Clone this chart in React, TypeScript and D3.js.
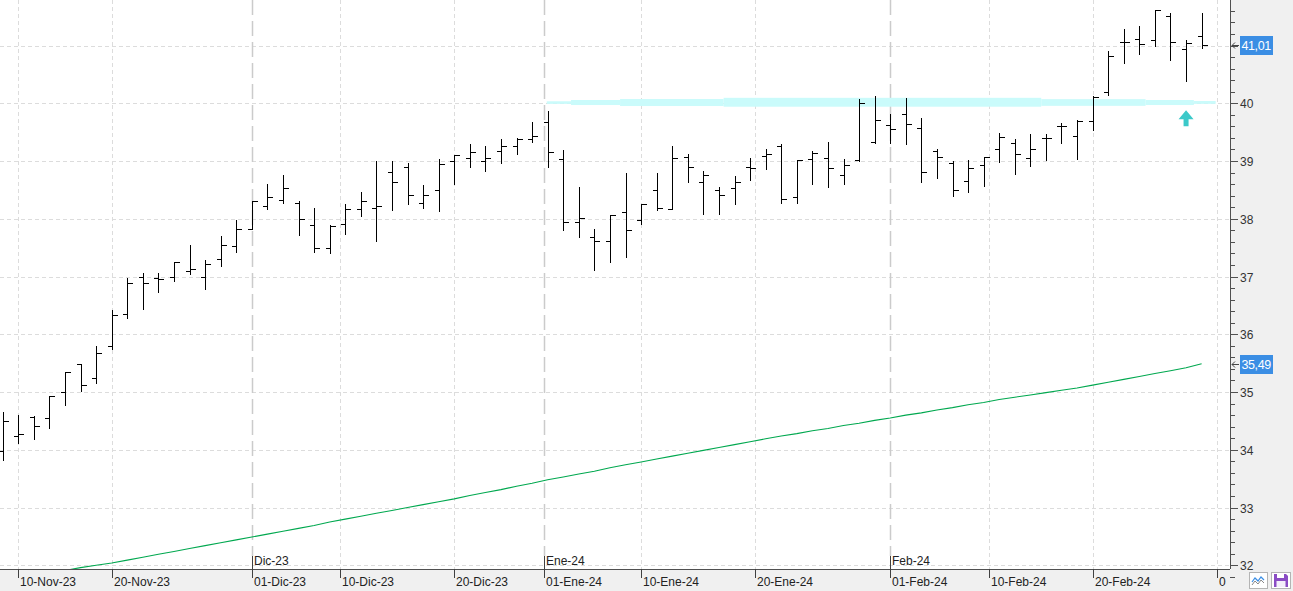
import { useEffect, useRef } from "react";
import * as d3 from "d3";

// trading sessions shown on the chart (BME calendar)
const tradingDays = [
  "2023-11-09", "2023-11-10", "2023-11-13", "2023-11-14", "2023-11-15", "2023-11-16", "2023-11-17",
  "2023-11-20", "2023-11-21", "2023-11-22", "2023-11-23", "2023-11-24", "2023-11-27", "2023-11-28",
  "2023-11-29", "2023-11-30",
  "2023-12-01", "2023-12-04", "2023-12-05", "2023-12-06", "2023-12-07", "2023-12-08", "2023-12-11",
  "2023-12-12", "2023-12-13", "2023-12-14", "2023-12-15", "2023-12-18", "2023-12-19", "2023-12-20",
  "2023-12-21", "2023-12-22", "2023-12-27", "2023-12-28", "2023-12-29",
  "2024-01-02", "2024-01-03", "2024-01-04", "2024-01-05", "2024-01-08", "2024-01-09", "2024-01-10",
  "2024-01-11", "2024-01-12", "2024-01-15", "2024-01-16", "2024-01-17", "2024-01-18", "2024-01-19",
  "2024-01-22", "2024-01-23", "2024-01-24", "2024-01-25", "2024-01-26", "2024-01-29", "2024-01-30",
  "2024-01-31",
  "2024-02-01", "2024-02-02", "2024-02-05", "2024-02-06", "2024-02-07", "2024-02-08", "2024-02-09",
  "2024-02-12", "2024-02-13", "2024-02-14", "2024-02-15", "2024-02-16", "2024-02-19", "2024-02-20",
  "2024-02-21", "2024-02-22", "2024-02-23", "2024-02-26", "2024-02-27", "2024-02-28", "2024-02-29",
];
const nextSession = "2024-03-01";

const opens = [
  33.98, 34.24, 34.56, 34.55, 35.0, 35.49, 35.24, 35.79, 36.36, 37.0, 36.98, 37.0, 37.1, 37.0, 37.31, 37.53,
  37.83, 38.22, 38.33, 38.28, 37.9, 37.5, 37.91, 38.17, 38.19, 38.81, 38.9, 38.28, 38.5, 39.0, 39.05, 39.0,
  39.17, 39.26, 39.38, 39.68, 39.03, 37.94, 37.69, 37.61, 38.12, 37.98, 38.5, 38.17, 39.07, 38.64, 38.5,
  38.53, 38.89, 39.08, 39.26, 38.38, 39.03, 39.06, 38.76, 39.02, 39.33, 39.62, 39.81, 39.58, 39.18, 38.96,
  38.66, 38.93, 39.21, 39.32, 39.05, 39.4, 39.6, 39.43, 39.69, 40.2, 41.07, 41.11, 41.1, 41.52, 40.94, 41.17,
];
const highs = [
  34.65, 34.6, 34.59, 34.93, 35.35, 35.49, 35.8, 36.42, 36.98, 37.07, 37.06, 37.26, 37.54, 37.29, 37.7, 37.98,
  38.31, 38.61, 38.75, 38.3, 38.18, 37.9, 38.25, 38.47, 39.0, 39.0, 38.97, 38.59, 39.04, 39.1, 39.29, 39.26,
  39.38, 39.4, 39.68, 39.87, 39.19, 38.55, 37.82, 38.07, 38.8, 38.26, 38.8, 39.26, 39.12, 38.83, 38.55,
  38.74, 39.06, 39.21, 39.3, 39.02, 39.17, 39.33, 39.03, 40.07, 40.13, 39.81, 40.09, 39.74, 39.2, 39.0,
  39.02, 39.07, 39.48, 39.38, 39.47, 39.47, 39.66, 39.71, 40.13, 40.9, 41.29, 41.34, 41.61, 41.56, 41.1, 41.56,
];
const lows = [
  33.83, 34.11, 34.18, 34.37, 34.77, 35.02, 35.15, 35.74, 36.29, 36.44, 36.73, 36.93, 37.05, 36.79, 37.18, 37.42,
  37.83, 38.17, 38.28, 37.72, 37.43, 37.41, 37.73, 38.04, 37.61, 38.15, 38.25, 38.19, 38.14, 38.6, 38.9, 38.82,
  38.97, 39.13, 39.33, 38.9, 37.8, 37.68, 37.12, 37.25, 37.33, 37.91, 38.16, 38.17, 38.63, 38.09, 38.09,
  38.25, 38.68, 38.87, 38.28, 38.28, 38.61, 38.55, 38.61, 39.0, 39.31, 39.31, 39.29, 38.63, 38.71, 38.4,
  38.47, 38.56, 38.99, 38.78, 38.92, 39.01, 39.32, 39.04, 39.53, 40.15, 40.69, 40.86, 41.0, 40.75, 40.39, 40.95,
];
const closes = [
  34.5, 34.27, 34.41, 34.93, 35.35, 35.12, 35.67, 36.34, 36.88, 36.88, 36.95, 37.26, 37.13, 37.22, 37.55, 37.83,
  38.31, 38.38, 38.53, 38.0, 37.5, 37.88, 38.17, 38.31, 38.22, 38.63, 38.42, 38.41, 38.95, 39.1, 39.16, 39.05,
  39.26, 39.39, 39.44, 39.15, 37.94, 38.01, 37.61, 38.07, 37.81, 38.26, 38.19, 39.05, 38.89, 38.75, 38.42,
  38.64, 38.88, 39.12, 38.35, 39.02, 39.14, 38.88, 38.93, 40.0, 39.71, 39.55, 39.64, 38.81, 39.07, 38.5,
  38.88, 39.07, 39.42, 39.12, 39.21, 39.4, 39.6, 39.69, 40.11, 40.82, 41.06, 41.03, 41.61, 41.06, 41.04, 41.01,
];
// long moving average (green)
const average = [
  31.73, 31.77, 31.82, 31.86, 31.91, 31.96, 32.0, 32.04, 32.09, 32.14, 32.19, 32.24, 32.29, 32.34, 32.39, 32.44,
  32.49, 32.54, 32.59, 32.64, 32.69, 32.75, 32.8, 32.85, 32.9, 32.95, 33.0, 33.05, 33.1, 33.15, 33.21, 33.26,
  33.31, 33.37, 33.42, 33.48, 33.53, 33.58, 33.63, 33.69, 33.74, 33.79, 33.84, 33.89, 33.94, 33.99, 34.04,
  34.09, 34.14, 34.19, 34.24, 34.28, 34.33, 34.37, 34.42, 34.46, 34.51, 34.55, 34.6, 34.64, 34.69, 34.73,
  34.78, 34.82, 34.87, 34.91, 34.95, 34.99, 35.03, 35.07, 35.12, 35.17, 35.22, 35.27, 35.32, 35.37, 35.42, 35.49,
];

const dayTickDates = [
  "2023-11-10", "2023-11-20", "2023-12-01", "2023-12-10", "2023-12-20", "2024-01-01",
  "2024-01-10", "2024-01-20", "2024-02-01", "2024-02-10", "2024-02-20", "2024-03-01",
];
const dayTickLabels = [
  "10-Nov-23", "20-Nov-23", "01-Dic-23", "10-Dic-23", "20-Dic-23", "01-Ene-24",
  "10-Ene-24", "20-Ene-24", "01-Feb-24", "10-Feb-24", "20-Feb-24", "0",
];
const monthDates = ["2023-12-01", "2024-01-01", "2024-02-01"];
const monthLabels = ["Dic-23", "Ene-24", "Feb-24"];
const priceTicks = [32, 33, 34, 35, 36, 37, 38, 39, 40, 41];

// hand-drawn support zone around 40: [from session, to session, top price, bottom price]
const zoneParts = [
  [34.94, 36.5, 40.035, 39.99],
  [36.5, 39.65, 40.057, 39.97],
  [39.65, 46.3, 40.074, 39.953],
  [46.3, 66.7, 40.095, 39.941],
  [66.7, 73.4, 40.072, 39.956],
  [73.4, 76.5, 40.057, 39.97],
  [76.5, 77.9, 40.04, 39.99],
];
const signalSession = 76;
const signalPrice = 39.88;

const App = () => {
  const d3Container = useRef<SVGSVGElement>(null);

  useEffect(() => {
    if (!d3Container.current) return;
    const svg = d3.select(d3Container.current);
    svg.selectAll("*").remove();

    const width = 1293;
    const height = 591;
    const plotRight = 1230;
    const plotBottom = 569;
    const font = "'Liberation Sans', Arial, sans-serif";

    const parse = d3.timeParse("%Y-%m-%d");
    const days = [...tradingDays, nextSession].map((d) => parse(d)!);
    const idx = d3.scaleLinear().domain([0, days.length - 1]).range([2.7, 1217.2]);
    // piecewise time scale: calendar dates interpolate between sessions
    const x = d3.scaleTime().domain(days).range(days.map((_, i) => idx(i)));
    const y = d3.scaleLinear().domain([32, 41]).range([565.3, 45.55]);
    const px = (v: number) => Math.round(v) + 0.5;

    svg.append("rect").attr("width", width).attr("height", height).attr("fill", "#fff");
    svg.append("rect").attr("x", plotRight + 1).attr("width", width - plotRight - 1).attr("height", height).attr("fill", "#f0f0f0");
    svg.append("rect").attr("y", plotBottom + 1).attr("width", width).attr("height", height - plotBottom - 1).attr("fill", "#f0f0f0");

    svg.append("clipPath").attr("id", "plot-clip")
      .append("rect").attr("width", plotRight).attr("height", plotBottom);
    const g = svg.append("g").attr("clip-path", "url(#plot-clip)");

    // grid
    g.selectAll(".hgrid").data(priceTicks).enter().append("line")
      .attr("x1", 0).attr("x2", plotRight)
      .attr("y1", (d) => px(y(d))).attr("y2", (d) => px(y(d)))
      .attr("stroke", "#dcdcdc").attr("stroke-dasharray", "4,3");
    const lightDates = dayTickDates.filter((d) => !monthDates.includes(d));
    g.selectAll(".vgrid").data(lightDates).enter().append("line")
      .attr("x1", (d) => px(x(parse(d)!))).attr("x2", (d) => px(x(parse(d)!)))
      .attr("y1", 0).attr("y2", plotBottom)
      .attr("stroke", "#dcdcdc").attr("stroke-dasharray", "4,3");
    g.selectAll(".mgrid").data(monthDates).enter().append("line")
      .attr("x1", (d) => px(x(parse(d)!))).attr("x2", (d) => px(x(parse(d)!)))
      .attr("y1", 0).attr("y2", 556)
      .attr("stroke", "#cbcbcb").attr("stroke-width", 1.5).attr("stroke-dasharray", "15,6");

    // support zone
    g.selectAll(".zone").data(zoneParts).enter().append("rect")
      .attr("x", (d) => idx(d[0])).attr("width", (d) => idx(d[1]) - idx(d[0]))
      .attr("y", (d) => y(d[2])).attr("height", (d) => y(d[3]) - y(d[2]))
      .attr("fill", "#cafbfb");

    // moving average
    const line = d3.line<number>().x((_, i) => idx(i)).y((d) => y(d));
    g.append("path").datum(average).attr("d", line)
      .attr("fill", "none").attr("stroke", "#00a84f").attr("stroke-width", 1.1);

    // OHLC bars
    const bars = g.append("g").attr("stroke", "#000").attr("shape-rendering", "crispEdges");
    opens.forEach((o, i) => {
      const cx = px(idx(i));
      bars.append("line").attr("x1", cx).attr("x2", cx).attr("y1", Math.round(y(highs[i]))).attr("y2", Math.round(y(lows[i])) + 1);
      bars.append("line").attr("x1", cx - 5).attr("x2", cx).attr("y1", px(y(o))).attr("y2", px(y(o)));
      bars.append("line").attr("x1", cx).attr("x2", cx + 5).attr("y1", px(y(closes[i]))).attr("y2", px(y(closes[i])));
    });

    // signal arrow
    const ax = idx(signalSession);
    const ay = y(signalPrice);
    g.append("path")
      .attr("d", `M${ax},${ay} L${ax + 7.5},${ay + 9} L${ax + 2.5},${ay + 9} L${ax + 2.5},${ay + 16} L${ax - 2.5},${ay + 16} L${ax - 2.5},${ay + 9} L${ax - 7.5},${ay + 9} Z`)
      .attr("fill", "#3cc9c9");

    // bottom axis
    svg.append("line").attr("x1", 0).attr("x2", plotRight).attr("y1", plotBottom + 0.5).attr("y2", plotBottom + 0.5).attr("stroke", "#505050");
    const dt = svg.selectAll(".dtick").data(dayTickDates).enter().append("g")
      .attr("transform", (d) => `translate(${px(x(parse(d)!))},0)`);
    dt.append("line").attr("y1", plotBottom).attr("y2", plotBottom + 9).attr("stroke", "#404040");
    dt.append("text").attr("x", 1.5).attr("y", 586).attr("font-family", font).attr("font-size", 12).attr("fill", "#222")
      .text((_, i) => dayTickLabels[i]);
    const mt = svg.selectAll(".mtick").data(monthDates).enter().append("g")
      .attr("transform", (d) => `translate(${px(x(parse(d)!))},0)`);
    mt.append("line").attr("y1", 556).attr("y2", plotBottom).attr("stroke", "#404040");
    mt.append("text").attr("x", 1.5).attr("y", 565).attr("font-family", font).attr("font-size", 12).attr("fill", "#222")
      .text((_, i) => monthLabels[i]);

    // last value markers
    const markers = [closes[closes.length - 1], average[average.length - 1]];

    // right axis
    svg.append("line").attr("x1", plotRight + 0.5).attr("x2", plotRight + 0.5).attr("y1", 0).attr("y2", plotBottom).attr("stroke", "#505050");
    const minor = d3.range(31.8, 41.81, 0.2);
    svg.selectAll(".minor").data(minor).enter().append("line")
      .attr("x1", plotRight).attr("x2", plotRight + 5)
      .attr("y1", (d) => px(y(d))).attr("y2", (d) => px(y(d)))
      .attr("stroke", "#505050");
    const yt = svg.selectAll(".ytick").data(priceTicks).enter().append("g")
      .attr("transform", (d) => `translate(0,${px(y(d))})`);
    yt.append("line").attr("x1", plotRight).attr("x2", plotRight + 8).attr("stroke", "#505050");
    // labels hidden behind a value marker are not drawn
    yt.filter((d) => markers.every((m) => Math.abs(m - d) > 0.3))
      .append("text").attr("x", 1240).attr("y", 4.5).attr("font-family", font).attr("font-size", 12).attr("fill", "#333")
      .text((d) => d);

    const fmt = (v: number) => v.toFixed(2).replace(".", ",");
    const mk = svg.selectAll(".marker").data(markers).enter().append("g")
      .attr("transform", (d) => `translate(0,${Math.round(y(d))})`);
    mk.append("path").attr("d", "M1239,0.5 H1232 M1235,-2.5 L1232,0.5 L1235,3.5")
      .attr("fill", "none").attr("stroke", "#444");
    mk.append("rect").attr("x", 1240).attr("y", -9).attr("width", 33).attr("height", 19).attr("fill", "#3b8ee4");
    mk.append("text").attr("x", 1241.5).attr("y", 5).attr("font-family", font).attr("font-size", 12.5).attr("fill", "#fff")
      .attr("letter-spacing", -0.4).text((d) => fmt(d));

    // corner buttons
    const b1 = svg.append("g").attr("transform", "translate(1249,572)");
    b1.append("rect").attr("x", 0.5).attr("y", 0.5).attr("width", 18).attr("height", 16).attr("fill", "#fff").attr("stroke", "#b4b4b4");
    b1.append("path").attr("d", "M3,10 L6,6 L9,9 L12,5 L15,8").attr("fill", "none").attr("stroke", "#3b8ee4").attr("stroke-width", 1.2);
    b1.append("path").attr("d", "M3,13 L6,9 L9,12 L12,8 L15,11").attr("fill", "none").attr("stroke", "#888").attr("stroke-width", 1);
    const b2 = svg.append("g").attr("transform", "translate(1271,572)");
    b2.append("rect").attr("x", 0.5).attr("y", 0.5).attr("width", 19).attr("height", 16).attr("fill", "#fff").attr("stroke", "#b4b4b4");
    b2.append("path").attr("d", "M3,2 H15 L17,4 V15 H3 Z").attr("fill", "#8a4cc4");
    b2.append("rect").attr("x", 6).attr("y", 2).attr("width", 7).attr("height", 4).attr("fill", "#fff");
    b2.append("rect").attr("x", 5.5).attr("y", 9).attr("width", 9).attr("height", 6).attr("fill", "#f3eefa");
  }, []);

  return (
    <svg
      ref={d3Container}
      width={1293}
      height={591}
      style={{ position: "absolute", left: 0, top: 0, display: "block" }}
    />
  );
};

export default App;
